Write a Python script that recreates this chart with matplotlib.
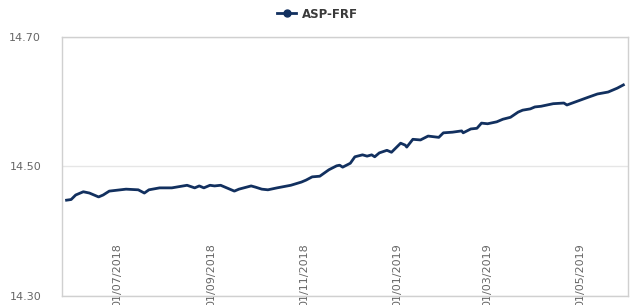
import matplotlib
matplotlib.use('Agg')
import matplotlib.pyplot as plt
import matplotlib.dates as mdates
import pandas as pd

# ASP-FRF series
dates = ['2018-05-29', '2018-06-01', '2018-06-04', '2018-06-09', '2018-06-13', '2018-06-19',
         '2018-06-22', '2018-06-26', '2018-07-07', '2018-07-15', '2018-07-19', '2018-07-22',
         '2018-07-29', '2018-08-06', '2018-08-16', '2018-08-21', '2018-08-24', '2018-08-27',
         '2018-08-31', '2018-09-03', '2018-09-07', '2018-09-11', '2018-09-16', '2018-09-19',
         '2018-09-27', '2018-09-30', '2018-10-04', '2018-10-08', '2018-10-14', '2018-10-23',
         '2018-10-30', '2018-11-02', '2018-11-06', '2018-11-11', '2018-11-17', '2018-11-22',
         '2018-11-24', '2018-11-26', '2018-12-01', '2018-12-04', '2018-12-09', '2018-12-12',
         '2018-12-15', '2018-12-17', '2018-12-20', '2018-12-25', '2018-12-28', '2019-01-03',
         '2019-01-06', '2019-01-07', '2019-01-11', '2019-01-16', '2019-01-21', '2019-01-28',
         '2019-01-31', '2019-02-06', '2019-02-12', '2019-02-13', '2019-02-18', '2019-02-22',
         '2019-02-25', '2019-03-01', '2019-03-07', '2019-03-11', '2019-03-16', '2019-03-21',
         '2019-03-24', '2019-03-29', '2019-04-01', '2019-04-05', '2019-04-13', '2019-04-20',
         '2019-04-22', '2019-04-29', '2019-05-06', '2019-05-12', '2019-05-19', '2019-05-25',
         '2019-05-29']
values = [14.448, 14.449, 14.456, 14.461, 14.459, 14.453,
          14.456, 14.462, 14.465, 14.464, 14.459, 14.464,
          14.467, 14.467, 14.471, 14.467, 14.470, 14.467,
          14.471, 14.470, 14.471, 14.467, 14.462, 14.465,
          14.470, 14.468, 14.465, 14.464, 14.467, 14.471,
          14.476, 14.479, 14.484, 14.485, 14.495, 14.501,
          14.502, 14.499, 14.505, 14.515, 14.518, 14.516,
          14.518, 14.515, 14.521, 14.525, 14.522, 14.536,
          14.533, 14.530, 14.542, 14.541, 14.547, 14.545,
          14.552, 14.553, 14.555, 14.552, 14.558, 14.559,
          14.567, 14.566, 14.569, 14.573, 14.576, 14.584,
          14.587, 14.589, 14.592, 14.593, 14.597, 14.598,
          14.595, 14.601, 14.607, 14.612, 14.615, 14.621,
          14.626]
tick_dates = ['2018-07-01', '2018-09-01', '2018-11-01', '2019-01-01', '2019-03-01', '2019-05-01']
yticks = [14.30, 14.50, 14.70]

NAVY = '#12305f'
GREY_TEXT = '#666666'
BORDER = '#d0d0d0'

x = pd.to_datetime(dates)

fig = plt.figure(figsize=(6.35, 3.05), dpi=100)
ax = fig.add_axes([0.0976, 0.0295, 0.8913, 0.8492])

ax.plot(x, values, color=NAVY, linewidth=2, label='ASP-FRF')

ax.set_ylim(14.30, 14.70)
ax.set_xlim(pd.Timestamp('2018-05-26'), pd.Timestamp('2019-06-01'))
ax.set_yticks(yticks)
ax.yaxis.set_major_formatter(matplotlib.ticker.FormatStrFormatter('%.2f'))
ax.set_xticks(pd.to_datetime(tick_dates))
ax.xaxis.set_major_formatter(mdates.DateFormatter('%d/%m/%Y'))

ax.grid(axis='y', color='#e6e6e6', linewidth=1)
ax.set_axisbelow(True)
for s in ax.spines.values():
    s.set_color(BORDER)
    s.set_linewidth(1)

ax.tick_params(axis='y', length=0, pad=15, labelsize=8, labelcolor=GREY_TEXT)
# date labels sit inside the plot and run off the bottom edge, as in the original
ax.tick_params(axis='x', length=0, pad=-38, labelsize=8, labelcolor=GREY_TEXT,
               labelrotation=90)

# legend with marker on the line, centred above the plot
h = plt.Line2D([], [], color=NAVY, linewidth=2, marker='o', markersize=5)
fig.legend([h], ['ASP-FRF'], loc='center', bbox_to_anchor=(0.5, 1 - 14 / 305),
           frameon=False, handlelength=1.6, handletextpad=0.5,
           prop={'size': 8.5, 'weight': 'bold'}, labelcolor='#3a3a3a')

fig.savefig('out.png', dpi=100)
